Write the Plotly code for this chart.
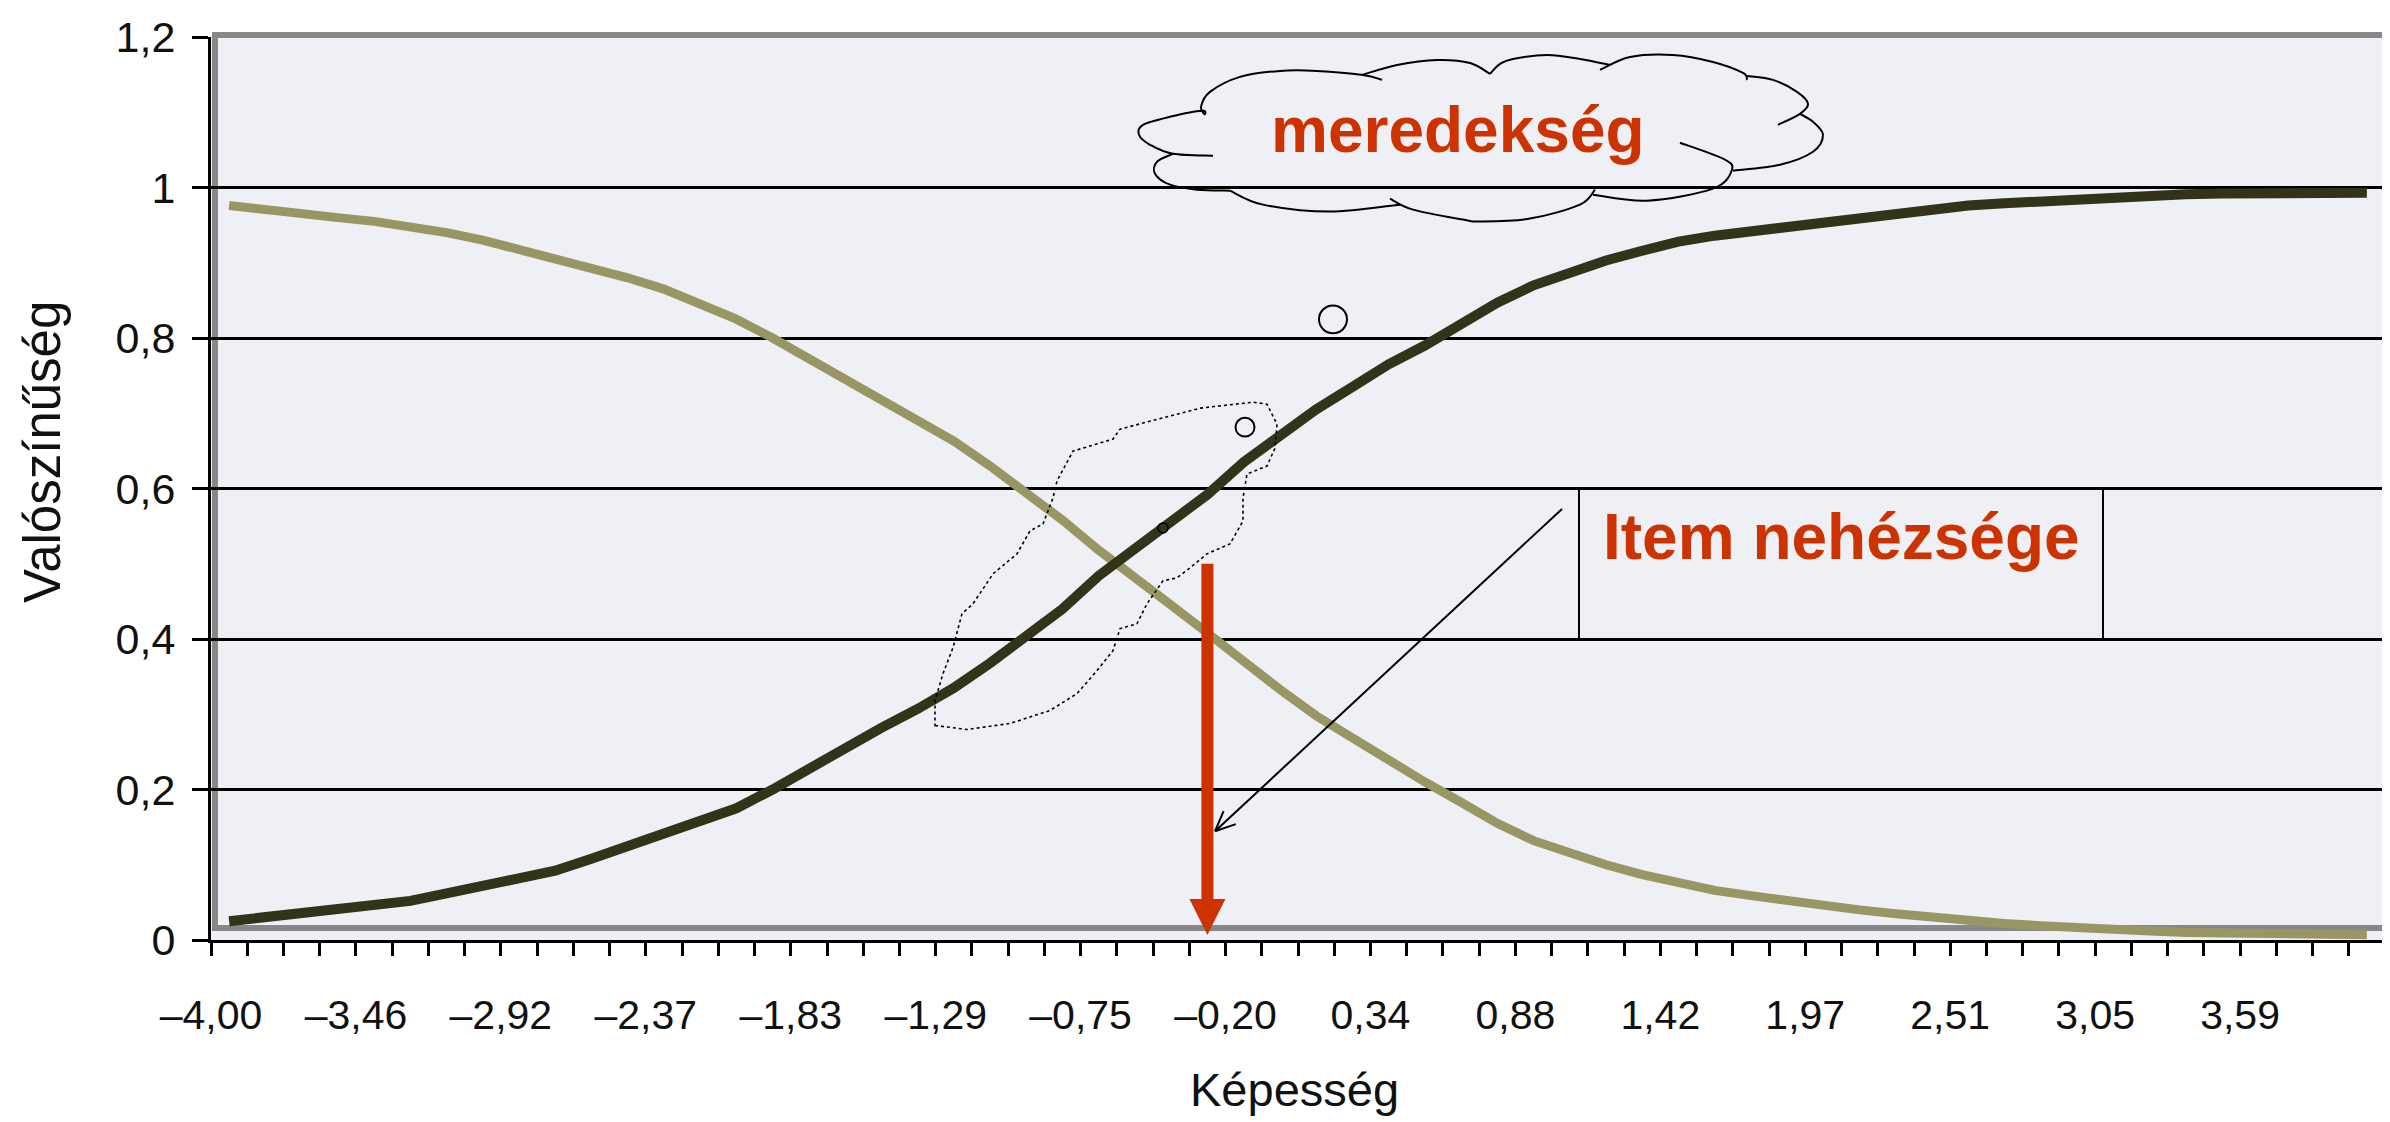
import math
import plotly.graph_objects as go

# ---------------- data ----------------
ability = [-4.0000, -3.8644, -3.7288, -3.5932, -3.4576, -3.3220, -3.1864, -3.0508,
           -2.9153, -2.7797, -2.6441, -2.5085, -2.3729, -2.2373, -2.1017, -1.9661,
           -1.8305, -1.6949, -1.5593, -1.4237, -1.2881, -1.1525, -1.0169, -0.8814,
           -0.7458, -0.6102, -0.4746, -0.3390, -0.2034, -0.0678, 0.0678, 0.2034,
           0.3390, 0.4746, 0.6102, 0.7458, 0.8814, 1.0169, 1.1525, 1.2881,
           1.4237, 1.5593, 1.6949, 1.8305, 1.9661, 2.1017, 2.2373, 2.3729,
           2.5085, 2.6441, 2.7797, 2.9153, 3.0508, 3.1864, 3.3220, 3.4576,
           3.5932, 3.7288, 3.8644, 4.0000]

p_correct = [0.025, 0.030, 0.036, 0.041, 0.046, 0.052, 0.062, 0.072, 0.080, 0.092,
             0.108, 0.124, 0.140, 0.157, 0.175, 0.200, 0.228, 0.255, 0.282, 0.307,
             0.335, 0.368, 0.403, 0.440, 0.484, 0.520, 0.555, 0.592, 0.635, 0.672,
             0.705, 0.735, 0.765, 0.790, 0.820, 0.847, 0.870, 0.887, 0.903, 0.916,
             0.928, 0.936, 0.942, 0.948, 0.955, 0.960, 0.966, 0.971, 0.976, 0.979,
             0.982, 0.985, 0.987, 0.990, 0.991, 0.992, 0.993, 0.993, 0.993, 0.993]

p_incorrect = [0.976, 0.970, 0.965, 0.960, 0.955, 0.948, 0.940, 0.930, 0.918, 0.906,
               0.894, 0.880, 0.865, 0.846, 0.825, 0.800, 0.773, 0.745, 0.720, 0.693,
               0.663, 0.630, 0.595, 0.558, 0.518, 0.480, 0.445, 0.408, 0.370, 0.333,
               0.298, 0.268, 0.238, 0.210, 0.183, 0.155, 0.132, 0.115, 0.100, 0.087,
               0.075, 0.066, 0.059, 0.052, 0.046, 0.040, 0.035, 0.030, 0.026, 0.022,
               0.019, 0.016, 0.014, 0.012, 0.010, 0.009, 0.008, 0.008, 0.007, 0.007]

x_tick_labels = ["–4,00", "–3,46", "–2,92", "–2,37", "–1,83", "–1,29", "–0,75", "–0,20",
                 "0,34", "0,88", "1,42", "1,97", "2,51", "3,05", "3,59"]
label_every = 4

y_tick_values = [0, 0.2, 0.4, 0.6, 0.8, 1.0, 1.2]
y_tick_labels = ["0", "0,2", "0,4", "0,6", "0,8", "1", "1,2"]

difficulty_index = 27          # category where the item difficulty arrow sits
difficulty_prob = 0.5

x_title = "Képesség"
y_title = "Valószínűség"
cloud_text = "meredekség"
box_text = "Item nehézsége"

# ---------------- geometry / style ----------------
OFF = 8                       # default body margin of the html page
W, H = 2390 - OFF, 1122 - OFF
ML, MR, MT, MB = 211 - OFF, 5, 35 - OFF, 190 - OFF
PW, PH = W - ML - MR, H - MT - MB

step = ability[1] - ability[0]
x_range = [ability[0] - step / 2, ability[-1] + step / 2]
y_range = [0, 1.2]

RED = "#CC3300"
DARK = "#33331A"
OLIVE = "#9A9664"
BG = "#EFF0F5"
SANS = "Liberation Sans, Arial, sans-serif"


def px2paper(px, py):
    # px, py are page pixel coordinates
    return (px - OFF - ML) / PW, (MT + PH - (py - OFF)) / PH


def x2px(x):
    return OFF + ML + (x - x_range[0]) / (x_range[1] - x_range[0]) * PW


def y2px(y):
    return OFF + MT + PH - (y - y_range[0]) / (y_range[1] - y_range[0]) * PH


def smooth_path(pts):
    p = [px2paper(*q) for q in pts]
    n = len(p)
    ext = [p[0]] + p + [p[-1]]
    d = "M %.5f %.5f" % p[0]
    for i in range(n - 1):
        p0, p1, p2, p3 = ext[i], ext[i + 1], ext[i + 2], ext[i + 3]
        c1 = (p1[0] + (p2[0] - p0[0]) / 6, p1[1] + (p2[1] - p0[1]) / 6)
        c2 = (p2[0] - (p3[0] - p1[0]) / 6, p2[1] - (p3[1] - p1[1]) / 6)
        d += " C %.5f %.5f, %.5f %.5f, %.5f %.5f" % (c1 + c2 + p2)
    return d


def poly_path(pts):
    p = [px2paper(*q) for q in pts]
    d = "M %.5f %.5f" % p[0]
    for q in p[1:]:
        d += " L %.5f %.5f" % q
    return d + " Z"


fig = go.Figure()
fig.add_trace(go.Scatter(x=ability, y=p_incorrect, mode="lines",
                         line=dict(color=OLIVE, width=9), hoverinfo="skip"))
fig.add_trace(go.Scatter(x=ability, y=p_correct, mode="lines",
                         line=dict(color=DARK, width=10), hoverinfo="skip"))

shapes = []
# grey plot frame
fx0, fy0 = px2paper(215, 928)
fx1, fy1 = px2paper(2387, 33)
shapes.append(dict(type="rect", xref="paper", yref="paper", x0=fx0, y0=fy0, x1=fx1, y1=fy1,
                   line=dict(color="#888888", width=6), layer="between"))

# "Item nehézsége" box (between gridlines 0.4 and 0.6)
bx0, _ = px2paper(1579, 0)
bx1, _ = px2paper(2103, 0)
shapes.append(dict(type="rect", xref="paper", yref="y", x0=bx0, x1=bx1, y0=0.4, y1=0.6,
                   line=dict(color="black", width=2)))

# cloud lobes (outline of the callout)
cloud_lobes = [
    [(1205, 113), (1201, 105), (1210, 90), (1240, 75), (1280, 69), (1317, 69), (1363, 73), (1382, 78)],
    [(1362, 73), (1397, 63), (1437, 58), (1470, 61), (1490, 72)],
    [(1490, 72), (1500, 62), (1513, 57), (1547, 53), (1580, 57), (1610, 63)],
    [(1600, 68), (1630, 55), (1673, 53), (1713, 60), (1743, 71), (1747, 78)],
    [(1747, 74), (1773, 78), (1797, 90), (1808, 102), (1800, 112), (1778, 123)],
    [(1800, 112), (1813, 120), (1823, 133), (1813, 150), (1780, 163), (1733, 169)],
    [(1680, 141), (1723, 157), (1732, 168), (1713, 187), (1647, 199), (1593, 193)],
    [(1595, 188), (1580, 203), (1530, 217), (1480, 220), (1463, 218), (1413, 208), (1390, 197)],
    [(1400, 203), (1330, 210), (1263, 203), (1230, 189)],
    [(1230, 189), (1197, 188), (1170, 183), (1155, 172), (1157, 160), (1173, 152)],
    [(1213, 154), (1173, 152), (1150, 143), (1139, 133), (1143, 123), (1170, 115), (1202, 109), (1205, 113)],
]
for lobe in cloud_lobes:
    shapes.append(dict(type="path", xref="paper", yref="paper", path=smooth_path(lobe),
                       line=dict(color="black", width=2)))

# dotted free-form outline
blob = [(935, 725), (967, 729), (1010, 723), (1050, 710), (1077, 693), (1097, 670), (1113, 650),
        (1120, 628), (1137, 623), (1147, 603), (1163, 580), (1177, 577), (1190, 567), (1207, 553),
        (1230, 543), (1243, 520), (1243, 497), (1247, 473), (1267, 465), (1275, 447), (1277, 423),
        (1267, 403), (1253, 401), (1200, 407), (1177, 413), (1120, 428), (1113, 438), (1073, 450),
        (1057, 480), (1053, 497), (1043, 523), (1030, 530), (1017, 553), (993, 573), (973, 603),
        (962, 613), (953, 647), (943, 673), (935, 700)]
shapes.append(dict(type="path", xref="paper", yref="paper", path=poly_path(blob),
                   line=dict(color="black", width=1.6, dash="dot")))

# small circles
for ccx, ccy, r in [(1333, 318, 14), (1245, 426, 9.5), (1163, 527, 5)]:
    x0, y0 = px2paper(ccx - r, ccy + r)
    x1, y1 = px2paper(ccx + r, ccy - r)
    shapes.append(dict(type="circle", xref="paper", yref="paper", x0=x0, y0=y0, x1=x1, y1=y1,
                       line=dict(color="black", width=2 if r > 6 else 1.5)))

# thin black pointer arrow from the box to the difficulty arrow
a0 = (1562, 508)
a1 = (1215, 831)
p0 = px2paper(*a0)
p1 = px2paper(*a1)
shapes.append(dict(type="line", xref="paper", yref="paper", x0=p0[0], y0=p0[1], x1=p1[0], y1=p1[1],
                   line=dict(color="black", width=2)))
dx, dy = a0[0] - a1[0], a0[1] - a1[1]
L = math.hypot(dx, dy)
ux, uy = dx / L, dy / L
for ang in (0.42, -0.42):
    rx = ux * math.cos(ang) - uy * math.sin(ang)
    ry = ux * math.sin(ang) + uy * math.cos(ang)
    e = px2paper(a1[0] + rx * 22, a1[1] + ry * 22)
    shapes.append(dict(type="line", xref="paper", yref="paper", x0=p1[0], y0=p1[1], x1=e[0], y1=e[1],
                       line=dict(color="black", width=2)))

# red item-difficulty arrow (from p=0.5 down to the axis)
ax_px = x2px(ability[difficulty_index])
top_px = y2px(difficulty_prob)
tip_px = y2px(0) - 5
head_px = tip_px - 36
s0 = px2paper(ax_px - 6, head_px + 1)
s1 = px2paper(ax_px + 6, top_px)
shapes.append(dict(type="rect", xref="paper", yref="paper", x0=s0[0], y0=s0[1], x1=s1[0], y1=s1[1],
                   line=dict(width=0), fillcolor=RED))
tri = [(ax_px - 18, head_px), (ax_px + 18, head_px), (ax_px, tip_px)]
tp = [px2paper(*q) for q in tri]
shapes.append(dict(type="path", xref="paper", yref="paper",
                   path="M %.5f %.5f L %.5f %.5f L %.5f %.5f Z" % (tp[0] + tp[1] + tp[2]),
                   line=dict(width=0), fillcolor=RED))

annotations = []
cx, cy = px2paper(1458, 128)
annotations.append(dict(x=cx, y=cy, xref="paper", yref="paper", text="<b>%s</b>" % cloud_text,
                        showarrow=False, font=dict(family=SANS, size=64, color=RED),
                        xanchor="center", yanchor="middle"))
tx, ty = px2paper(1841, 536)
annotations.append(dict(x=tx, y=ty, xref="paper", yref="paper", text="<b>%s</b>" % box_text,
                        showarrow=False, font=dict(family=SANS, size=64, color=RED),
                        xanchor="center", yanchor="middle"))
xt, yt = px2paper(1294, 1090)
annotations.append(dict(x=xt, y=yt, xref="paper", yref="paper", text=x_title, showarrow=False,
                        font=dict(family=SANS, size=47, color="#111111"),
                        xanchor="center", yanchor="middle"))
xt, yt = px2paper(42, 451)
annotations.append(dict(x=xt, y=yt, xref="paper", yref="paper", text=y_title, showarrow=False,
                        textangle=-90, font=dict(family=SANS, size=51, color="#111111"),
                        xanchor="center", yanchor="middle"))

label_positions = [ability[i] - step / 2 for i in range(0, len(ability), label_every)][:len(x_tick_labels)]

fig.update_layout(
    width=W, height=H,
    margin=dict(l=ML, r=MR, t=MT, b=MB),
    paper_bgcolor="white", plot_bgcolor=BG,
    showlegend=False,
    shapes=shapes, annotations=annotations,
    xaxis=dict(range=x_range, showgrid=False, zeroline=False,
               showline=True, linecolor="black", linewidth=3,
               tickmode="array", tickvals=label_positions, ticktext=x_tick_labels,
               ticks="outside", ticklen=13, tickwidth=3, tickcolor="black",
               ticklabelstandoff=24,
               tickfont=dict(family=SANS, size=41, color="#111111"),
               minor=dict(tickmode="linear", tick0=x_range[0], dtick=step, ticks="outside",
                          ticklen=13, tickwidth=3, tickcolor="black", showgrid=False)),
    yaxis=dict(range=y_range, showgrid=True, gridcolor="black", gridwidth=3, zeroline=False,
               showline=True, linecolor="black", linewidth=3,
               tickmode="array", tickvals=y_tick_values, ticktext=y_tick_labels,
               ticks="outside", ticklen=16, tickwidth=3, tickcolor="black",
               ticklabelstandoff=8,
               tickfont=dict(family=SANS, size=43, color="#111111")),
)

fig.write_html("out.html")
